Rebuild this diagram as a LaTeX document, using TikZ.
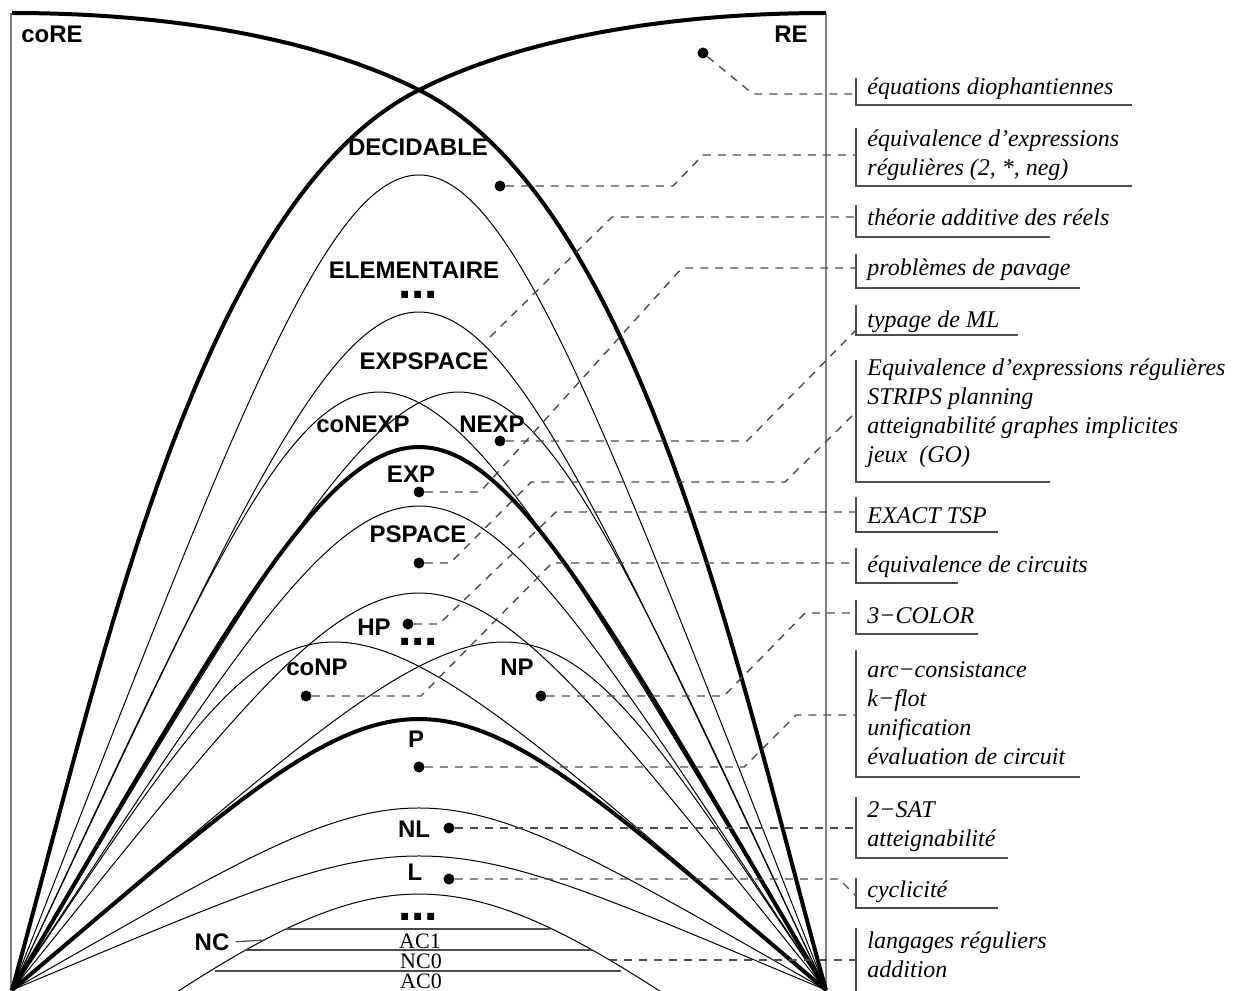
\documentclass[tikz,border=0pt]{standalone}
\usepackage{fontspec}
\setmainfont{Liberation Serif}
\setsansfont{Liberation Sans}
\usetikzlibrary{calc}
\tikzset{
    classe/.style={font=\sffamily\bfseries\fontsize{12}{13}\selectfont, inner sep=0pt, anchor=base},
    etc/.style={font=\sffamily\bfseries\fontsize{24}{24}\selectfont, inner sep=0pt, anchor=base},
    circ/.style={font=\fontsize{11}{12}\selectfont, inner sep=0pt, anchor=base},
    pb/.style={font=\itshape\fontsize{12}{14.5}\selectfont, inner sep=0pt, anchor=base west, align=left},
    pdot/.style={circle, fill=black, inner sep=0pt, minimum size=5.5pt},
    front/.style={line width=0.5pt},
    fort/.style={line width=2pt},
    lien/.style={black!70, line width=0.7pt, dash pattern=on 4pt off 3.5pt},
    cadre/.style={black!70, line width=0.75pt},
    bord/.style={black!50, line width=1pt},
    niveau/.style={black!70, line width=0.6pt},
}
% arche symetrique : [style]{hauteur des points de controle}{decalage}
\newcommand\arche[3][front]{\draw[#1] (sw) .. controls ({440+#3},#2) and ({398+#3},#2) .. (se);}

\begin{document}
\begin{tikzpicture}[x=0.5pt, y=-0.5pt]
    \useasboundingbox (0,0) rectangle (1240,990);
    \coordinate (sw) at (12,990);
    \coordinate (se) at (826,990);

    % RE / coRE
    \draw[bord] (11,13) -- (11,995);
    \draw[bord] (826,13) -- (826,995);
    \draw[fort] (826,13) .. controls (676,13) and (526,36) .. (419,90) .. controls (195,202) and (96,690) .. (sw);
    \draw[fort] (12,13) .. controls (162,13) and (312,36) .. (419,90) .. controls (643,202) and (742,690) .. (se);

    % classes
    \arche{-96.7}{0}
    \arche{86}{0}
    \arche{192.7}{-53}
    \arche{192.7}{53}
    \arche[fort]{266}{0}
    \arche{344.7}{0}
    \arche{460.7}{0}
    \arche{526}{-113}
    \arche{526}{113}
    \arche[fort]{628.7}{0}
    \arche{747.3}{0}
    \arche{811.3}{0}
    \draw[front] (120,1030) .. controls (385,848.7) and (453,848.7) .. (718,1030);
    \draw[niveau] (286,929) -- (550,929);
    \draw[niveau] (245,950) -- (592,950);
    \draw[niveau] (215,971) -- (621,971);

    \node[classe] (coRE) at (52,43) {coRE};
    \node[classe] (RE) at (791,43) {RE};
    \node[classe] (DEC) at (418,155) {DECIDABLE};
    \node[classe] (ELEM) at (414,278) {ELEMENTAIRE};
    \node[etc] at (418,298) {...};
    \node[classe] (EXPSPACE) at (424,369) {EXPSPACE};
    \node[classe] (coNEXP) at (363,432) {coNEXP};
    \node[classe] (NEXP) at (492,432) {NEXP};
    \node[classe] (EXP) at (411,482) {EXP};
    \node[classe] (PSPACE) at (418,542) {PSPACE};
    \node[classe] (HP) at (374,635) {HP};
    \node[etc] at (418,645) {...};
    \node[classe] (coNP) at (317,675) {coNP};
    \node[classe] (NP) at (517,675) {NP};
    \node[classe] (P) at (416,747) {P};
    \node[classe] (NL) at (414,837) {NL};
    \node[classe] (L) at (415,880) {L};
    \node[etc] at (418,920) {...};
    \node[classe] (NC) at (212,950) {NC};
    \node[circ] (AC1) at (420,948) {AC1};
    \node[circ] (NC0) at (421,968) {NC0};
    \node[circ] (AC0) at (421,988) {AC0};
    \coordinate (ncp) at (265,940);
    \draw[niveau] ([xshift=3pt]NC.east) -- (ncp);

    % points
    \node[pdot] (dRE) at (703,53) {};
    \node[pdot] (dDEC) at (500,186) {};
    \node[pdot] (dNEXP) at (500,441) {};
    \node[pdot] (dEXP) at (419,492) {};
    \node[pdot] (dPSPACE) at (419,563) {};
    \node[pdot] (dHP) at (408,624) {};
    \node[pdot] (dcoNP) at (306,696) {};
    \node[pdot] (dNP) at (541,696) {};
    \node[pdot] (dP) at (419,767) {};
    \node[pdot] (dNL) at (449,828) {};
    \node[pdot] (dL) at (449,879) {};
    \coordinate (dEXPSPACE) at (490,337);
    \coordinate (dNC) at (609,960);

    % exemples (base = derniere ligne)
    \foreach \h/\b/\r in {78/105/1132, 128/186/1132, 205/237/1050, 254/288/1080, 305/335/1018,
        360/482/1050, 497/532/998, 548/583/958, 600/634/978, 650/777/1080, 797/858/1008, 878/908/998}
        \draw[cadre] (856,\h) -- (856,\b) -- (\r,\b);
    \draw[cadre] (856,928) -- (856,995);

    \node[pb] (t1) at (867,95) {équations diophantiennes};
    \node[pb] (t2) at (867,175) {équivalence d'expressions\\régulières (2, *, neg)};
    \node[pb] (t3) at (867,225) {théorie additive des réels};
    \node[pb] (t4) at (867,275) {problèmes de pavage};
    \node[pb] (t5) at (867,327) {typage de ML};
    \node[pb] (t6) at (867,462) {Equivalence d'expressions régulières\\STRIPS planning\\atteignabilité graphes implicites\\jeux~ (GO)};
    \node[pb] (t7) at (867,523) {EXACT TSP};
    \node[pb] (t8) at (867,572) {équivalence de circuits};
    \node[pb] (t9) at (867,623) {3−COLOR};
    \node[pb] (t10) at (867,764) {arc−consistance\\k−flot\\unification\\évaluation de circuit};
    \node[pb] (t11) at (867,846) {2−SAT\\atteignabilité};
    \node[pb] (t12) at (867,897) {cyclicité};
    \node[pb] (t13) at (867,977) {langages réguliers\\addition};

    \coordinate (e1) at (856,94);
    \coordinate (e2) at (856,155);
    \coordinate (e3) at (856,217);
    \coordinate (e4) at (856,268);
    \coordinate (e5) at (856,330);
    \coordinate (e6) at (856,412);
    \coordinate (e7) at (856,512);
    \coordinate (e8) at (856,563);
    \coordinate (e9) at (856,613);
    \coordinate (e10) at (856,715);
    \coordinate (e11) at (856,828);
    \coordinate (e12) at (856,896);
    \coordinate (e13) at (856,960);

    \draw[lien] (dRE) -- (753,94) -- (e1);
    \draw[lien] (dDEC) -- (673,186) -- (703,155) -- (e2);
    \draw[lien] (dEXPSPACE) -- (612,217) -- (e3);
    \draw[lien] (dEXP) -- (480,492) -- (682,268) -- (e4);
    \draw[lien] (dNEXP) -- (747,441) -- (e5);
    \draw[lien] (dPSPACE) -- (450,563) -- (531,482) -- (785,482) -- (e6);
    \draw[lien] (dHP) -- (439,624) -- (556,512) -- (e7);
    \draw[lien] (dcoNP) -- (421,696) -- (552,563) -- (e8);
    \draw[lien] (dNP) -- (724,696) -- (805,613) -- (e9);
    \draw[lien] (dP) -- (744,767) -- (796,715) -- (e10);
    \draw[lien] (dNL) -- (e11);
    \draw[lien] (dL) -- (839,879) -- (e12);
    \draw[lien] (dNC) -- (e13);
\end{tikzpicture}
\end{document}
